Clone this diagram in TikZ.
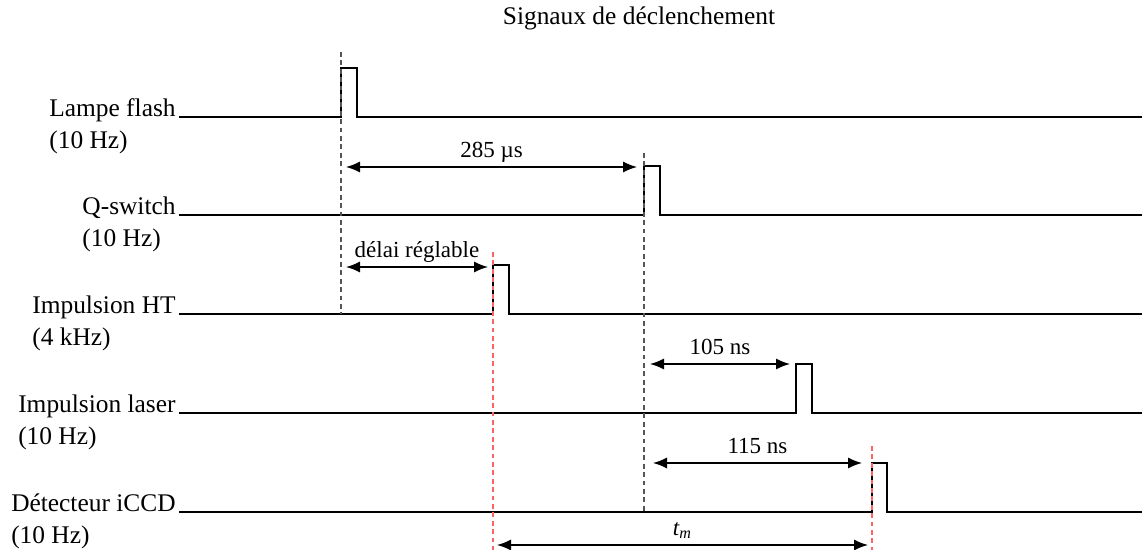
\documentclass[tikz,border=0pt]{standalone}
\usepackage{fontspec}
\setmainfont{Liberation Serif}
\usetikzlibrary{arrows.meta, positioning}
\definecolor{GuideGrey}{RGB}{85,85,85}
\definecolor{GuideRed}{RGB}{250,100,100}

\begin{document}
\begin{tikzpicture}[
            x=0.5pt, y=-0.5pt,
            signal/.style={line width=1.1pt, line join=miter},
            siglabel/.style={inner sep=0pt, font=\fontsize{12.7}{15}\selectfont},
            freqlabel/.style={inner sep=0pt, anchor=base west, font=\fontsize{12.7}{15}\selectfont},
            dimlabel/.style={inner sep=0pt, anchor=base, yshift=4.8pt, font=\fontsize{11.5}{13}\selectfont},
            titlelabel/.style={inner sep=0pt, anchor=base, font=\fontsize{12.7}{15}\selectfont},
            guide/.style={draw=GuideGrey, line width=0.7pt, dash pattern=on 2.4pt off 1.8pt},
            redguide/.style={draw=GuideRed, line width=0.7pt, dash pattern=on 2.4pt off 1.8pt},
            dimarrow/.style={{Latex[length=7pt, width=5.5pt]}-{Latex[length=7pt, width=5.5pt]}, line width=0.65pt}
        ]
            \useasboundingbox (0,0) rectangle (1142,550);

            \node[titlelabel] (title) at (639,25) {Signaux de déclenchement};

            % debut des signaux
            \coordinate (s1) at (179,117);
            \coordinate (s2) at (179,215);
            \coordinate (s3) at (179,314);
            \coordinate (s4) at (179,413);
            \coordinate (s5) at (179,512);

            \node[siglabel, anchor=base east] (lampe) at ([xshift=-1.5pt]s1) {Lampe flash};
            \node[freqlabel] (lampef) at ([yshift=-16pt]lampe.base west) {(10 Hz)};
            \node[siglabel, anchor=base east] (qsw) at ([xshift=-1.5pt]s2) {Q-switch};
            \node[freqlabel] (qswf) at ([yshift=-16pt]qsw.base west) {(10 Hz)};
            \node[siglabel, anchor=base east] (ht) at ([xshift=-1.5pt]s3) {Impulsion HT};
            \node[freqlabel] (htf) at ([yshift=-16pt]ht.base west) {(4 kHz)};
            \node[siglabel, anchor=base east] (laser) at ([xshift=-1.5pt]s4) {Impulsion laser};
            \node[freqlabel] (laserf) at ([yshift=-16pt]laser.base west) {(10 Hz)};
            \node[siglabel, anchor=base east] (iccd) at ([xshift=-1.5pt]s5) {Détecteur iCCD};
            \node[freqlabel] (iccdf) at ([yshift=-16pt]iccd.base west) {(10 Hz)};

            % impulsions
            \draw[signal] (s1) -- (341,117) |- (357,68) |- (1142,117);
            \draw[signal] (s2) -- (644,215) |- (660,166) |- (1142,215);
            \draw[signal] (s3) -- (493,314) |- (509,265) |- (1142,314);
            \draw[signal] (s4) -- (796,413) |- (812,364) |- (1142,413);
            \draw[signal] (s5) -- (872,512) |- (887,463) |- (1142,512);

            % reperes
            \coordinate (gA1) at (341,52);
            \coordinate (gA2) at (341,314);
            \coordinate (gB1) at (644,153);
            \coordinate (gB2) at (644,512);
            \coordinate (rC1) at (493,252);
            \coordinate (rC2) at (493,550);
            \coordinate (rD1) at (872,446);
            \coordinate (rD2) at (872,550);
            \draw[guide] (gA1) -- (gA2);
            \draw[guide] (gB1) -- (gB2);
            \draw[redguide] (rC1) -- (rC2);
            \draw[redguide] (rD1) -- (rD2);

            % delais
            \coordinate (q1) at (346,167);
            \coordinate (q2) at (637,167);
            \coordinate (h1) at (346,267);
            \coordinate (h2) at (488,267);
            \coordinate (l1) at (650,364);
            \coordinate (l2) at (790,364);
            \coordinate (c1) at (653,463);
            \coordinate (c2) at (862,463);
            \coordinate (m1) at (497,545);
            \coordinate (m2) at (868,545);

            \draw[dimarrow] (q1) -- node[dimlabel] (qlab) {285 µs} (q2);
            \draw[dimarrow] (h1) -- node[dimlabel] (hlab) {délai réglable} (h2);
            \draw[dimarrow] (l1) -- node[dimlabel] (llab) {105 ns} (l2);
            \draw[dimarrow] (c1) -- node[dimlabel] (clab) {115 ns} (c2);
            \draw[dimarrow] (m1) -- node[dimlabel] (mlab) {{\itshape t}\textsubscript{\itshape m}} (m2);
        \end{tikzpicture}
\end{document}
